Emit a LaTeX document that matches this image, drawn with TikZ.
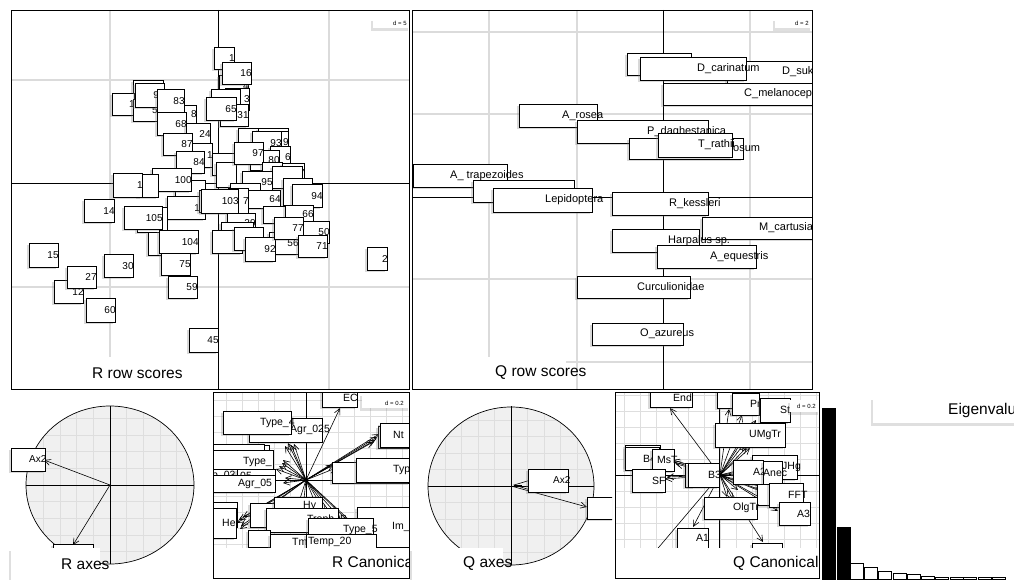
\documentclass[tikz,border=0pt]{standalone}
\usepackage{fontspec}
\setmainfont{Liberation Sans}
\usetikzlibrary{arrows.meta,shadows}
\tikzset{
  frame/.style={draw=black,line width=.8pt},
  grid line/.style={draw=black!14,line width=1.2pt},
  fine grid/.style={draw=black!13,line width=.8pt},
  axis/.style={draw=black,line width=.7pt},
  lbox/.style={draw=black,fill=white,line width=.8pt,inner sep=0pt,anchor=north west,
    drop shadow={shadow xshift=-2pt,shadow yshift=-2pt,opacity=.3}},
  ltext/.style={inner sep=0pt,font=\fontsize{10}{12}\selectfont},
  titlebox/.style={fill=white,inner sep=0pt,anchor=north west,
    drop shadow={shadow xshift=-2.5pt,shadow yshift=-2.5pt,opacity=.25}},
  titletext/.style={inner sep=0pt,anchor=west,font=\fontsize{15.5}{18}\selectfont},
  dtext/.style={inner sep=0pt,anchor=west,font=\fontsize{6}{7}\selectfont},
  vec/.style={-{Straight Barb[length=6pt,width=6pt]},line width=.6pt},
  eigbar/.style={draw=black,line width=.8pt}
}
% box + right aligned text
\newcommand\rlbl[6]{\node[lbox,minimum width=#4,minimum height=#5] (#1) at (#2,#3) {};
  \node[ltext,anchor=east] (#1t) at (#1.east) {#6};}
% box + text starting at a given x
\newcommand\qlbl[7]{\node[lbox,minimum width=#4,minimum height=#5] (#1) at (#2,#3) {};
  \node[ltext,anchor=west] (#1t) at ({#7},{#3+#5/2}) {#6};}
\newcommand\ptitle[7]{\node[titlebox,minimum width=#4,minimum height=#5] (#1) at (#2,#3) {};
  \node[titletext] (#1t) at ({#7},{#3+#5/2}) {#6};}
\begin{document}
\begin{tikzpicture}[x=1pt,y=-1pt]
\useasboundingbox (0,0) rectangle (1014,580);

% R row scores
\begin{scope}
\clip (11,10) rectangle (409,389);
\foreach \x in {110,329} \draw[grid line] (\x,10) -- (\x,389);
\foreach \y in {80,287} \draw[grid line] (11,\y) -- (409,\y);
\draw[axis] (218,10) -- (218,389);
\draw[axis] (11,183) -- (409,183);
\rlbl{r14}{84}{199}{30}{23}{14}
\rlbl{r15}{29}{243}{29}{24}{15}
\rlbl{r30}{104}{254}{29}{23}{30}
\rlbl{r12}{54}{280}{29}{23}{12}
\rlbl{r27}{67}{266}{29}{22}{27}
\rlbl{r60}{86}{298}{29}{24}{60}
\rlbl{r45}{189}{328}{29}{24}{45}
\rlbl{r2}{367}{247}{20}{23}{2}
\rlbl{r1}{214}{47}{20}{22}{1}
\rlbl{r4}{219}{75}{29}{22}{4}
\rlbl{r16}{222}{62}{29}{22}{16}
\rlbl{r3}{225}{88}{24}{22}{3}
\rlbl{rb1}{211}{89}{29}{21}{}
\rlbl{r31}{220}{104}{28}{22}{31}
\rlbl{r65}{206}{97}{30}{23}{65}
\rlbl{rb2}{133}{80}{30}{23}{}
\rlbl{r1b}{112}{93}{22}{22}{1}
\rlbl{r5}{133}{99}{24}{22}{5}
\rlbl{r98}{135}{83}{29}{24}{98}
\rlbl{r8}{172}{105}{24}{18}{8}
\rlbl{r83}{157}{89}{27}{23}{83}
\rlbl{r68}{157}{112}{29}{23}{68}
\rlbl{r24}{186}{123}{24}{22}{24}
\rlbl{r1c}{192}{143}{20}{24}{1}
\rlbl{r87}{163}{133}{29}{22}{87}
\rlbl{r84}{176}{151}{28}{22}{84}
\rlbl{rb15}{175}{180}{30}{18}{}
\rlbl{r100}{152}{168}{39}{23}{100}
\rlbl{rb16}{138}{174}{20}{23}{}
\rlbl{r1d}{113}{173}{29}{24}{1}
\rlbl{r10}{167}{196}{38}{23}{10}
\rlbl{rb17}{137}{207}{30}{25}{}
\rlbl{r105}{124}{206}{38}{23}{105}
\rlbl{rb18}{148}{232}{30}{23}{}
\rlbl{r104}{159}{230}{39}{23}{104}
\rlbl{r75}{161}{253}{29}{22}{75}
\rlbl{r59}{168}{276}{29}{22}{59}
\rlbl{rb3}{212}{153}{22}{22}{}
\rlbl{rb4}{216}{162}{20}{25}{}
\rlbl{rb5}{238}{128}{30}{22}{}
\rlbl{rb6}{258}{128}{30}{22}{}
\rlbl{r9}{268}{131}{20}{22}{9}
\rlbl{r93}{252}{131}{29}{23}{93}
\rlbl{r6}{270}{146}{20}{22}{6}
\rlbl{r80}{250}{150}{29}{20}{80}
\rlbl{r97}{234}{142}{29}{22}{97}
\rlbl{r9b}{262}{162}{20}{20}{9}
\rlbl{r17}{282}{163}{22}{20}{17}
\rlbl{rb7}{272}{166}{30}{22}{}
\rlbl{r95}{242}{171}{30}{22}{95}
\rlbl{rb8}{283}{178}{29}{27}{}
\rlbl{r94}{292}{184}{30}{23}{94}
\rlbl{rb9}{230}{183}{30}{20}{}
\rlbl{rb10}{199}{190}{41}{22}{}
\rlbl{r64}{246}{190}{34}{18}{64}
\rlbl{r7}{228}{188}{20}{25}{7}
\rlbl{r103}{201}{189}{37}{24}{103}
\rlbl{rb11}{263}{206}{22}{17}{}
\rlbl{r66}{285}{205}{28}{18}{66}
\rlbl{r29}{227}{213}{28}{20}{29}
\rlbl{rb12}{221}{222}{32}{23}{}
\rlbl{rb13}{212}{230}{30}{23}{}
\rlbl{rb14}{234}{227}{29}{23}{}
\rlbl{r56}{269}{232}{29}{22}{56}
\rlbl{r92}{245}{237}{30}{24}{92}
\rlbl{r50}{302}{221}{27}{22}{50}
\rlbl{r77}{274}{217}{29}{22}{77}
\rlbl{r71}{298}{235}{29}{22}{71}
\node[titlebox,minimum width=37,minimum height=10] (rd) at (373,18) {};
\node[dtext] (rdt) at (393,23) {d = 5};
\ptitle{rtitle}{11}{357}{152}{32}{R row scores}{92}
\end{scope}
\draw[frame] (11,10) rectangle (409,389);

% Q row scores
\begin{scope}[ltext/.style={inner sep=0pt,font=\fontsize{11}{13}\selectfont}]
\clip (412,10) rectangle (812,389);
\foreach \x in {489,577,750} \draw[grid line] (\x,10) -- (\x,389);
\foreach \y in {32,114,279,362} \draw[grid line] (412,\y) -- (812,\y);
\draw[axis] (663,10) -- (663,389);
\draw[axis] (412,197) -- (812,197);
\qlbl{qb1}{627}{53}{64}{22}{}{700}
\qlbl{qdsuk}{727}{61}{100}{22}{D\_sukatschevi}{782}
\qlbl{qdcar}{640}{57}{106}{23}{D\_carinatum}{697}
\qlbl{qcmel}{663}{83}{160}{22}{C\_melanocephalus}{744}
\qlbl{qaros}{519}{104}{78}{23}{A\_rosea}{562}
\qlbl{qpdag}{577}{120}{131}{23}{P\_daghestanica}{647}
\qlbl{qos}{629}{138}{114}{21}{osum}{733}
\qlbl{qtrat}{658}{133}{74}{24}{T\_rathii}{698}
\qlbl{qatra}{413}{164}{94}{23}{A\_ trapezoides}{450}
\qlbl{qb2}{473}{180}{101}{22}{}{500}
\qlbl{qlep}{493}{188}{99}{24}{Lepidoptera}{545}
\qlbl{qrkes}{612}{192}{96}{23}{R\_kessleri}{669}
\qlbl{qmcar}{702}{217}{115}{22}{M\_cartusianum}{759}
\qlbl{qharp}{612}{229}{87}{23}{Harpalus sp.}{668}
\qlbl{qaequ}{657}{245}{99}{23}{A\_equestris}{710}
\qlbl{qcurc}{577}{276}{113}{22}{Curculionidae}{637}
\qlbl{qoazu}{592}{323}{91}{22}{O\_azureus}{640}
\node[titlebox,minimum width=37,minimum height=10] (qd) at (775,18) {};
\node[dtext] (qdt) at (795,23) {d = 2};
\ptitle{qtitle}{412}{357}{154}{32}{Q row scores}{495}
\end{scope}
\draw[frame] (412,10) rectangle (812,389);

% R axes
\coordinate (rao) at (110,485);
\begin{scope}
\clip (rao) ellipse [x radius=84,y radius=79];
\fill[black!6] (rao) ellipse [x radius=84,y radius=79];
\foreach \k in {-5,...,5} {
  \draw[fine grid] (110+\k*16.7,400) -- (110+\k*16.7,570);
  \draw[fine grid] (20,485+\k*16.7) -- (200,485+\k*16.7);}
\end{scope}
\draw[line width=.7pt] (rao) ellipse [x radius=84,y radius=79];
\draw[axis] (26,485) -- (194,485);
\draw[axis] (110,406) -- (110,564);
\coordinate (rax2) at (44,460);
\coordinate (rax1) at (73,545);
\draw[vec] (rao) -- (rax2);
\draw[vec] (rao) -- (rax1);
\qlbl{raxb2}{11}{448}{34}{23}{Ax2}{29}
\qlbl{raxb1}{53}{544}{40}{20}{}{60}
\ptitle{ratitle}{11}{548}{89}{32}{R axes}{61}

% R canonical weights
\coordinate (rco) at (306,480);
\begin{scope}[ltext/.style={inner sep=0pt,font=\fontsize{10.5}{12}\selectfont}]
\clip (213,392) rectangle (409,578);
\foreach \k in {-6,...,6} {
  \draw[fine grid] (306+\k*16,392) -- (306+\k*16,578);
  \draw[fine grid] (213,480+\k*16) -- (409,480+\k*16);}
\draw[axis] (306,392) -- (306,578);
\draw[axis] (213,480) -- (409,480);
\foreach \x/\y [count=\i] in {340/408,288/443,285/446,291/445,294/444,377/437,375/440,373/442,379/434,
  333/465,336/468,282/463,279/466,276/469,283/460,283/483,285/478,237/523,239/520,241/526,243/517,
  240/529,298/505,303/508,318/510,325/512,332/515,340/518,352/525,360/530}
  {\coordinate (rv\i) at (\x,\y); \draw[vec] (rco) -- (rv\i);}
\qlbl{rcb1}{212}{445}{57}{10}{}{230}
\qlbl{rcagr025}{249}{418}{73}{24}{Agr\_025}{290}
\qlbl{rctype4}{223}{411}{68}{23}{Type\_4}{260}
\qlbl{rcec}{322}{388}{35}{19}{EC}{343}
\qlbl{rcb2}{378}{426}{32}{22}{}{395}
\qlbl{rcnt}{380}{423}{30}{24}{Nt}{393}
\qlbl{rcb3}{332}{462}{78}{21}{}{350}
\qlbl{rctyp}{356}{458}{54}{24}{Type}{393}
\qlbl{rcb4}{212}{444}{52}{12}{}{230}
\qlbl{rctype}{212}{450}{61}{23}{Type\_}{243}
\qlbl{rcp03}{212}{469}{26}{14}{p\_03}{212}
\qlbl{rc05}{237}{469}{38}{14}{05}{240}
\qlbl{rcagr05}{212}{475}{63}{17}{Agr\_05}{238}
\qlbl{rcb5}{212}{502}{25}{25}{}{220}
\qlbl{rche}{212}{508}{24}{30}{He}{222}
\qlbl{rcb6}{250}{503}{25}{24}{}{255}
\qlbl{rchy}{274}{497}{48}{18}{Hy}{303}
\qlbl{rctroph}{266}{508}{72}{24}{Troph\_B}{307}
\qlbl{rcb7}{248}{530}{22}{17}{}{250}
\qlbl{rcim}{357}{507}{53}{40}{Im\_}{392}
\qlbl{rctype5}{308}{518}{65}{24}{Type\_5}{343}
\qlbl{rctm}{270}{534}{36}{16}{Tm}{292}
\qlbl{rctemp}{306}{534}{70}{16}{Temp\_20}{308}
\node[titlebox,minimum width=48,minimum height=15] (rcd) at (362,393) {};
\node[dtext] (rcdt) at (385,403) {d = 0.2};
\ptitle{rctitle}{212}{548}{198}{30}{R Canonical weights}{332}
\end{scope}
\draw[frame] (213,392) rectangle (409,578);

% Q axes
\coordinate (qao) at (511,486);
\begin{scope}
\clip (qao) ellipse [x radius=83,y radius=79];
\fill[black!6] (qao) ellipse [x radius=83,y radius=79];
\foreach \k in {-5,...,5} {
  \draw[fine grid] (511+\k*16.5,400) -- (511+\k*16.5,570);
  \draw[fine grid] (420,486+\k*16.5) -- (600,486+\k*16.5);}
\end{scope}
\draw[line width=.7pt] (qao) ellipse [x radius=83,y radius=79];
\draw[axis] (428,486) -- (594,486);
\draw[axis] (511,406) -- (511,565);
\coordinate (qax1) at (587,507);
\coordinate (qax2a) at (522,485);
\coordinate (qax2) at (513,485);
\draw[vec] (qao) -- (qax1);
\draw[-{Straight Barb[length=15pt,width=9pt]},line width=.6pt] (qax2a) -- (qax2);
\begin{scope}
\clip (412,392) rectangle (612,580);
\qlbl{qaxb2}{528}{469}{40}{23}{Ax2}{553}
\qlbl{qaxb1}{587}{497}{30}{22}{}{600}
\end{scope}
\ptitle{qatitle}{412}{548}{91}{32}{Q axes}{463}

% Q canonical weights
\coordinate (qco) at (720,475);
\begin{scope}[ltext/.style={inner sep=0pt,font=\fontsize{10.5}{12}\selectfont}]
\clip (615,392) rectangle (819,578);
\foreach \k in {-7,...,7} {
  \draw[fine grid] (720+\k*16,392) -- (720+\k*16,578);
  \draw[fine grid] (615,475+\k*16) -- (819,475+\k*16);}
\draw[axis] (719,392) -- (719,578);
\draw[axis] (615,475) -- (819,475);
\foreach \x/\y [count=\i] in {670/408,729/409,742/415,756/420,747/447,744/444,750/448,740/441,
  674/462,676/464,673/460,665/479,667/477,752/470,760/473,765/477,757/466,762/487,766/492,770/495,
  778/511,775/506,763/542,693/527,648/560,733/500,727/497,738/490}
  {\coordinate (qv\i) at (\x,\y); \draw[vec] (qco) -- (qv\i);}
\qlbl{qcend}{650}{388}{42}{19}{End}{673}
\qlbl{qczf}{717}{388}{33}{20}{ZF}{737}
\qlbl{qcpr}{732}{393}{27}{22}{Pr}{750}
\qlbl{qcst}{760}{398}{30}{24}{St}{780}
\qlbl{qcumg}{715}{423}{70}{24}{UMgTr}{749}
\qlbl{qcb1}{625}{445}{35}{22}{}{640}
\qlbl{qcb4}{625}{447}{34}{23}{B4}{643}
\qlbl{qcmst}{652}{449}{22}{22}{MsT}{657}
\qlbl{qcsf}{632}{469}{33}{23}{SF}{652}
\qlbl{qcb2}{685}{463}{10}{24}{}{688}
\qlbl{qcb3}{688}{463}{31}{24}{B3}{708}
\qlbl{qcjhg}{752}{455}{45}{24}{JHg}{782}
\qlbl{qca2}{733}{460}{30}{24}{A2}{753}
\qlbl{qcanec}{763}{461}{19}{23}{Anec}{763}
\qlbl{qcb5}{757}{484}{13}{21}{}{760}
\qlbl{qcfft}{769}{483}{34}{24}{FFT}{788}
\qlbl{qca3}{779}{502}{31}{23}{A3}{797}
\qlbl{qcolg}{704}{497}{53}{22}{OlgTr}{733}
\qlbl{qca1}{677}{528}{31}{20}{A1}{696}
\qlbl{qcb6}{752}{543}{30}{8}{}{760}
\node[titlebox,minimum width=30,minimum height=12] (qcd) at (790,400) {};
\node[dtext] (qcdt) at (797,406) {d = 0.2};
\ptitle{qctitle}{612}{548}{208}{30}{Q Canonical weights}{733}
\end{scope}
\draw[frame] (615,392) rectangle (819,578);

% Eigenvalues
\foreach \x/\t in {822/408,837/527} \draw[eigbar,fill=black] (\x,\t) rectangle (\x+13,579);
\foreach \x/\t in {850/563,864/567,878/571,893/573,907/574,921/576,935/577,950/577.5,963/577.5,978/577.5,992/577.5}
  \draw[eigbar,fill=white] (\x,\t) rectangle (\x+13,579);
\begin{scope}
\clip (815,392) rectangle (1014,580);
\ptitle{etitle}{873}{397}{145}{26}{Eigenvalues}{948}
\end{scope}
\end{tikzpicture}
\end{document}
